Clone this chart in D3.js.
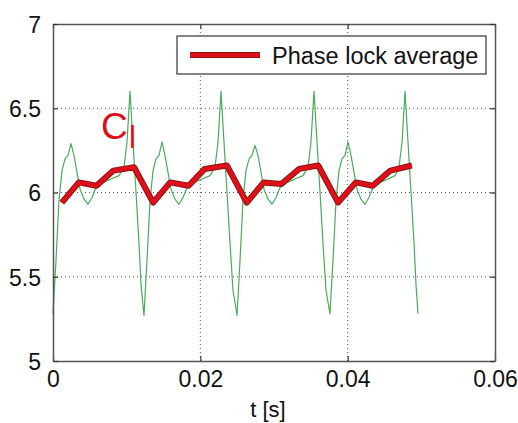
<!DOCTYPE html>
<html>
<head>
<meta charset="utf-8">
<script src="https://cdn.jsdelivr.net/npm/d3@7"></script>
<style>
  body { margin: 0; background: #fff; }
  svg text { font-family: "Liberation Sans", Arial, sans-serif; }
</style>
</head>
<body>
<div class="content"></div>
<script>
// measured signal (green)
var sigT = [0, 0.00041, 0.00081, 0.00122, 0.00163, 0.00204, 0.00244, 0.00285, 0.00326, 0.00367,
  0.00421, 0.00475, 0.00529, 0.00584, 0.00679, 0.00787, 0.00896, 0.00964, 0.01005, 0.01045,
  0.01086, 0.01127, 0.01167, 0.01195, 0.01235,
  0.01276, 0.01317, 0.01358, 0.01398, 0.01439, 0.01480, 0.01520, 0.01561, 0.01602, 0.01656,
  0.01710, 0.01765, 0.01819, 0.01914, 0.02023, 0.02131, 0.02199, 0.02240, 0.02281, 0.02321,
  0.02362, 0.02403, 0.02443, 0.02498,
  0.02539, 0.02579, 0.02620, 0.02661, 0.02701, 0.02742, 0.02783, 0.02824, 0.02864, 0.02919,
  0.02973, 0.03027, 0.03082, 0.03177, 0.03285, 0.03394, 0.03462, 0.03502, 0.03543, 0.03584,
  0.03625, 0.03665, 0.03706, 0.03760,
  0.03801, 0.03842, 0.03882, 0.03923, 0.03964, 0.04005, 0.04045, 0.04086, 0.04127, 0.04181,
  0.04235, 0.04290, 0.04344, 0.04439, 0.04548, 0.04643, 0.04697, 0.04738, 0.04779, 0.04819,
  0.04860, 0.04901, 0.04928, 0.04955];
var sigV = [5.28, 5.6, 5.95, 6.13, 6.2, 6.22, 6.29, 6.22, 6.12, 6.02,
  5.96, 5.93, 5.97, 6.03, 6.06, 6.08, 6.1, 6.15, 6.3, 6.6,
  6.3, 6.0, 5.7, 5.45, 5.27,
  5.6, 5.95, 6.13, 6.2, 6.22, 6.3, 6.22, 6.12, 6.02, 5.96,
  5.93, 5.97, 6.03, 6.06, 6.08, 6.1, 6.15, 6.3, 6.6, 6.3,
  6.0, 5.7, 5.42, 5.27,
  5.6, 5.95, 6.13, 6.2, 6.22, 6.28, 6.22, 6.12, 6.02, 5.96,
  5.93, 5.97, 6.03, 6.06, 6.08, 6.1, 6.15, 6.3, 6.6, 6.3,
  6.0, 5.7, 5.42, 5.28,
  5.6, 5.95, 6.13, 6.2, 6.22, 6.3, 6.22, 6.12, 6.02, 5.96,
  5.93, 5.97, 6.03, 6.06, 6.08, 6.1, 6.15, 6.3, 6.6, 6.3,
  6.0, 5.7, 5.45, 5.28];

// phase lock average (red)
var avgT = [0.0012, 0.0035, 0.0059, 0.0082, 0.0110, 0.0136,
  0.0159, 0.0184, 0.0206, 0.0236, 0.0263,
  0.0286, 0.0310, 0.0334, 0.0360, 0.0387,
  0.0411, 0.0434, 0.0458, 0.0487];
var avgV = [5.94, 6.06, 6.04, 6.13, 6.15, 5.94,
  6.06, 6.04, 6.14, 6.16, 5.94,
  6.06, 6.05, 6.14, 6.16, 5.94,
  6.06, 6.04, 6.13, 6.16];

var xTicks = [0, 0.02, 0.04, 0.06];
var xTickLabels = ["0", "0.02", "0.04", "0.06"];
var yTicks = [5, 5.5, 6, 6.5, 7];
var yTickLabels = ["5", "5.5", "6", "6.5", "7"];
var xGrid = [0.02, 0.04];
var yGrid = [5.5, 6, 6.5];

var width = 518, height = 423;
var svg = d3.select('div.content').append('svg')
    .attr('width', width)
    .attr('height', height)

var x = d3.scaleLinear().domain([0, 0.06]).range([53, 495]);
var y = d3.scaleLinear().domain([5, 7]).range([361, 24]);

// grid
svg.selectAll('line.gx').data(xGrid).enter().append('line')
    .attr('x1', function(d) { return x(d) }).attr('x2', function(d) { return x(d) })
    .attr('y1', y(5)).attr('y2', y(7))
    .style('stroke', '#555').style('stroke-width', 1).style('stroke-dasharray', '1,3')
svg.selectAll('line.gy').data(yGrid).enter().append('line')
    .attr('y1', function(d) { return y(d) }).attr('y2', function(d) { return y(d) })
    .attr('x1', x(0)).attr('x2', x(0.06))
    .style('stroke', '#555').style('stroke-width', 1).style('stroke-dasharray', '1,3')

// signal
var line = d3.line()
    .x(function(d) { return x(d[0]) })
    .y(function(d) { return y(d[1]) })

svg.append('path')
    .datum(d3.zip(sigT, sigV))
    .attr('d', line)
    .style('fill', 'none')
    .style('stroke', '#48ad5a')
    .style('stroke-width', 1.2)
    .style('stroke-linejoin', 'round')

// phase lock average
var avg = d3.zip(avgT, avgV);
svg.append('path')
    .datum(avg)
    .attr('d', line)
    .style('fill', 'none')
    .style('stroke', '#8a1410')
    .style('stroke-width', 6)
    .style('stroke-linejoin', 'round')
svg.append('path')
    .datum(avg)
    .attr('d', line)
    .style('fill', 'none')
    .style('stroke', '#e0101a')
    .style('stroke-width', 4)
    .style('stroke-linejoin', 'round')

// axes box
var axisColor = '#555';
var xAxisB = d3.axisBottom(x).tickValues(xTicks).tickFormat(function(d, i) { return xTickLabels[i] })
    .tickSizeInner(-5).tickSizeOuter(0).tickPadding(10);
var gx = svg.append('g').attr('transform', 'translate(0,' + y(5) + ')').call(xAxisB);
var xAxisT = d3.axisTop(x).tickValues(xTicks).tickFormat('').tickSizeInner(-5).tickSizeOuter(0);
var gxt = svg.append('g').attr('transform', 'translate(0,' + y(7) + ')').call(xAxisT);
var yAxisL = d3.axisLeft(y).tickValues(yTicks).tickFormat(function(d, i) { return yTickLabels[i] })
    .tickSizeInner(-5).tickSizeOuter(0).tickPadding(12);
var gy = svg.append('g').attr('transform', 'translate(' + x(0) + ',0)').call(yAxisL);
var yAxisR = d3.axisRight(y).tickValues(yTicks).tickFormat('').tickSizeInner(-5).tickSizeOuter(0);
var gyr = svg.append('g').attr('transform', 'translate(' + x(0.06) + ',0)').call(yAxisR);

[gx, gxt, gy, gyr].forEach(function(g) {
    g.select('.domain').style('stroke', axisColor).style('stroke-width', 1.5)
    g.selectAll('.tick line').style('stroke', '#333').style('stroke-width', 1.2)
    g.selectAll('.tick text').style('font-size', '23px').style('fill', '#111')
        .style('font-family', '"Liberation Sans", Arial, sans-serif')
})
gy.selectAll('.tick text').attr('dy', '0.36em')
gx.selectAll('.tick text').attr('dy', '0.68em')

// x label
svg.append('text')
    .text('t [s]')
    .attr('x', 268).attr('y', 417)
    .style('text-anchor', 'middle')
    .style('font-size', '22px')
    .style('fill', '#111')

// C_l label
svg.append('text')
    .text('C')
    .attr('x', 101).attr('y', 139)
    .style('font-size', '37px')
    .style('fill', '#e0101a')
svg.append('text')
    .text('l')
    .attr('x', 129).attr('y', 148)
    .style('font-size', '31px')
    .style('fill', '#e0101a')

// legend
svg.append('rect')
    .attr('x', 177).attr('y', 36).attr('width', 309).attr('height', 38)
    .style('fill', '#fff').style('stroke', '#333').style('stroke-width', 1.2)
svg.append('line')
    .attr('x1', 190).attr('x2', 260).attr('y1', 55).attr('y2', 55)
    .style('stroke', '#8a1410').style('stroke-width', 6)
svg.append('line')
    .attr('x1', 190).attr('x2', 260).attr('y1', 55).attr('y2', 55)
    .style('stroke', '#e0101a').style('stroke-width', 4)
svg.append('text')
    .text('Phase lock average')
    .attr('x', 272).attr('y', 64)
    .style('font-size', '23.5px')
    .style('fill', '#111')
</script>
</body>
</html>
